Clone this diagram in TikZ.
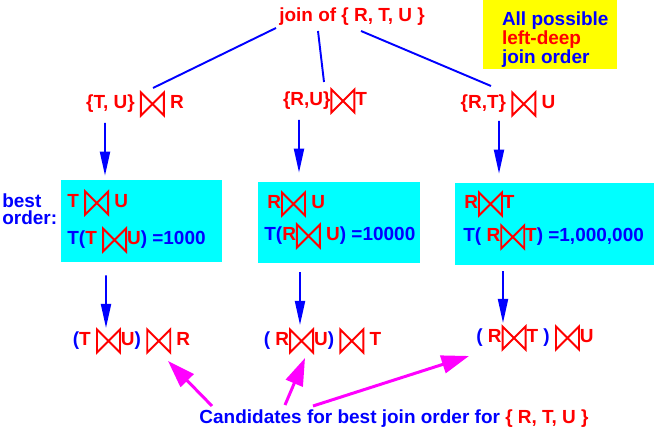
\documentclass[tikz,border=0pt]{standalone}
\usepackage{fontspec}
\setmainfont{Liberation Sans}
\usetikzlibrary{arrows.meta,positioning,calc}
\definecolor{boxcyan}{RGB}{0,255,255}
\definecolor{pink}{RGB}{255,0,255}
\definecolor{legendyellow}{RGB}{255,255,0}

% join symbol drawn inline
\newcommand{\jn}{\tikz[baseline=0.13cm]\draw[red,line width=1.1pt] (0,0) -- (0,0.46) -- (0.46,0) -- (0.46,0.46) -- cycle;}
\newcommand{\bl}[1]{\textcolor{blue}{#1}}

\begin{document}
\begin{tikzpicture}[
    every node/.style={font=\fontsize{10.8}{13}\selectfont\bfseries},
    txt/.style={text=red, inner sep=0pt},
    costbox/.style={fill=boxcyan, inner sep=0pt},
    tree/.style={blue, line width=1.1pt},
    down/.style={blue, line width=1.1pt, -{Triangle[length=0.48cm,width=0.2cm]}},
    cand/.style={pink, line width=1.7pt, -{Triangle[length=0.55cm,width=0.36cm]}}]
  \useasboundingbox (0,0) rectangle (13.08,8.64);

  \node[txt] (top) at (7.04,8.30) {join of \{ R, T, U \}};
  \node[fill=legendyellow, minimum width=2.68cm, minimum height=1.38cm, inner sep=0pt] (legend) at (11.0,7.95) {};
  \node[txt, align=left, anchor=west, font=\fontsize{10.8}{10.6}\selectfont\bfseries]
        (legtext) at ($(legend.west)+(0.38,-0.10)$) {\bl{All possible}\\left-deep\\\bl{join order}};

  % second level
  \node[txt] (tu) at (2.70,6.56) {\{T, U\} \jn{} R};
  \node[txt] (ru) at (6.50,6.62) {\{R,U\}\jn T};
  \node[txt] (rt) at (10.16,6.56) {\{R,T\} \jn{} U};
  \draw[tree] ($(top)+(-1.52,-0.22)$) -- ($(tu)+(0.36,0.32)$);
  \draw[tree] ($(top)+(-0.68,-0.28)$) -- ($(ru)+(-0.02,0.38)$);
  \draw[tree] ($(top)+(0.18,-0.28)$) -- ($(rt)+(-0.34,0.36)$);

  % best orders
  \node[text=blue, align=left, anchor=west, inner sep=0pt,
        font=\fontsize{10.8}{9.6}\selectfont\bfseries] (best) at (0.04,4.46) {best\\order:};
  \node[costbox, minimum width=3.22cm, minimum height=1.64cm] (b1) at (2.83,4.22) {};
  \node[costbox, minimum width=3.24cm, minimum height=1.62cm] (b2) at (6.78,4.19) {};
  \node[costbox, minimum width=3.98cm, minimum height=1.64cm] (b3) at (11.09,4.16) {};
  \node[txt, anchor=west] (b1a) at ($(b1)+(-1.49,0.36)$) {T \jn{} U};
  \node[txt, anchor=west] (b1b) at ($(b1)+(-1.49,-0.38)$) {\bl{T(}T \jn U\bl{) =1000}};
  \node[txt, anchor=west] (b2a) at ($(b2)+(-1.44,0.37)$) {R\jn{} U};
  \node[txt, anchor=west] (b2b) at ($(b2)+(-1.50,-0.27)$) {\bl{T(}R\jn{} U\bl{) =10000}};
  \node[txt, anchor=west] (b3a) at ($(b3)+(-1.81,0.40)$) {R\jn T};
  \node[txt, anchor=west] (b3b) at ($(b3)+(-1.83,-0.26)$) {\bl{T( }R\jn T\bl{) =1,000,000}};
  \draw[down] ($(tu)+(-0.60,-0.38)$) -- ($(b1.north)+(-0.73,0.08)$);
  \draw[down] ($(ru)+(-0.52,-0.38)$) -- ($(b2.north)+(-0.80,0.18)$);
  \draw[down] ($(rt)+(-0.18,-0.34)$) -- ($(b3.north)+(-1.11,0.18)$);

  % candidates
  \node[txt] (c1) at (2.63,1.82) {\bl{(}T \jn U\bl{)} \jn{} R};
  \node[txt] (c2) at (6.45,1.82) {\bl{(} R\jn U\bl{)} \jn{} T};
  \node[txt] (c3) at (10.70,1.88) {\bl{(} R\jn T \bl{)} \jn U};
  \draw[down] ($(b1.south)+(-0.71,-0.26)$) -- ($(c1)+(-0.51,0.26)$);
  \draw[down] ($(b2.south)+(-0.78,-0.18)$) -- ($(c2)+(-0.45,0.32)$);
  \draw[down] ($(b3.south)+(-1.03,-0.12)$) -- ($(c3)+(-0.64,0.30)$);

  \node[text=blue, inner sep=0pt] (cands) at (7.88,0.26) {Candidates for best join order for \textcolor{red}{\{ R, T, U \}}};
  \draw[cand] ($(cands)+(-3.64,0.26)$) -- ($(c1)+(0.73,-0.40)$);
  \draw[cand] ($(cands)+(-2.18,0.28)$) -- ($(c2)+(-0.35,-0.34)$);
  \draw[cand] ($(cands)+(-1.62,0.26)$) -- ($(c3)+(-1.32,-0.36)$);
\end{tikzpicture}
\end{document}
